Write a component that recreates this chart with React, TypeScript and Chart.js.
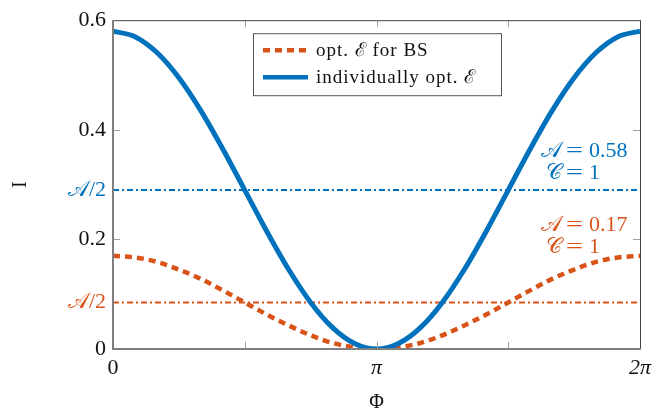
import React, { useEffect, useRef } from "react";
import { Chart, registerables } from "chart.js";
Chart.register(...registerables);

// Φ in radians (steps of π/12)
const PHI = [
  0, 0.2618, 0.5236, 0.7854, 1.0472, 1.309, 1.5708, 1.8326, 2.0944, 2.3562, 2.618, 2.8798, 3.1416,
  3.4034, 3.6652, 3.927, 4.1888, 4.4506, 4.7124, 4.9742, 5.236, 5.4978, 5.7596, 6.0214, 6.2832,
];
const INDIVIDUAL = [
  0.58, 0.57, 0.541, 0.495, 0.435, 0.365, 0.29, 0.215, 0.145, 0.085, 0.039, 0.01, 0.0,
  0.01, 0.039, 0.085, 0.145, 0.215, 0.29, 0.365, 0.435, 0.495, 0.541, 0.57, 0.58,
];
const OPT_BS = [
  0.17, 0.167, 0.159, 0.145, 0.128, 0.107, 0.085, 0.063, 0.043, 0.025, 0.011, 0.003, 0.0,
  0.003, 0.011, 0.025, 0.043, 0.063, 0.085, 0.107, 0.128, 0.145, 0.159, 0.167, 0.17,
];
const HALF_A_BLUE = 0.29;
const HALF_A_ORANGE = 0.085;

const X_TICKS = [0, 1.5708, 3.1416, 4.7124, 6.2832];
const X_TICK_LABELS = ["0", "", "π", "", "2π"];
const Y_TICKS = [0, 0.085, 0.2, 0.29, 0.4, 0.6];
const Y_TICK_LABELS = ["0", "𝒜/2", "0.2", "𝒜/2", "0.4", "0.6"];

const LEGEND_LABELS = ["opt. ℰ for BS", "individually opt. ℰ"];
const ANN_BLUE = ["𝒜 = 0.58", "𝒞 = 1"];
const ANN_ORANGE = ["𝒜 = 0.17", "𝒞 = 1"];

const BLUE = "#0072BD";
const ORANGE = "#D95319";
const FONT = "'Liberation Serif', serif";

const decor = {
  id: "decor",
  afterDatasetsDraw(chart: any) {
    const ctx = chart.ctx;
    const ca = chart.chartArea;
    const xs = chart.scales.x;
    const ys = chart.scales.y;
    ctx.save();
    // tick marks
    ctx.strokeStyle = "#a0a0a0";
    ctx.lineWidth = 1;
    [1.5708, 3.1416, 4.7124].forEach((v) => {
      const px = Math.round(xs.getPixelForValue(v)) + 0.5;
      ctx.beginPath();
      ctx.moveTo(px, ca.bottom);
      ctx.lineTo(px, ca.bottom - 7);
      ctx.moveTo(px, ca.top);
      ctx.lineTo(px, ca.top + 7);
      ctx.stroke();
    });
    [0.2, 0.4].forEach((v) => {
      const py = Math.round(ys.getPixelForValue(v)) + 0.5;
      ctx.beginPath();
      ctx.moveTo(ca.left, py);
      ctx.lineTo(ca.left + 7, py);
      ctx.moveTo(ca.right, py);
      ctx.lineTo(ca.right - 7, py);
      ctx.stroke();
    });
    // frame
    ctx.strokeStyle = "#444";
    ctx.lineWidth = 1;
    ctx.beginPath();
    ctx.moveTo(ca.left, ca.top + 0.5);
    ctx.lineTo(ca.right, ca.top + 0.5);
    ctx.moveTo(ca.right + 0.5, ca.top);
    ctx.lineTo(ca.right + 0.5, ca.bottom);
    ctx.stroke();
    ctx.strokeStyle = "#808080";
    ctx.lineWidth = 2;
    ctx.beginPath();
    ctx.moveTo(ca.left, ca.top);
    ctx.lineTo(ca.left, ca.bottom);
    ctx.lineTo(ca.right + 1, ca.bottom);
    ctx.stroke();

    // legend
    const lx = ca.left + 140;
    const ly = ca.top + 13;
    ctx.fillStyle = "#fff";
    ctx.fillRect(lx, ly, 248, 62);
    ctx.strokeStyle = "#555";
    ctx.lineWidth = 1;
    ctx.strokeRect(lx + 0.5, ly + 0.5, 248, 62);
    ctx.lineWidth = 4.5;
    ctx.strokeStyle = ORANGE;
    ctx.setLineDash([7, 5]);
    ctx.beginPath();
    ctx.moveTo(lx + 10, ly + 17);
    ctx.lineTo(lx + 53, ly + 17);
    ctx.stroke();
    ctx.setLineDash([]);
    ctx.strokeStyle = BLUE;
    ctx.beginPath();
    ctx.moveTo(lx + 10, ly + 44);
    ctx.lineTo(lx + 55, ly + 44);
    ctx.stroke();
    ctx.fillStyle = "#111";
    ctx.font = "19px " + FONT;
    ctx.textAlign = "left";
    ctx.textBaseline = "middle";
    (ctx as any).letterSpacing = "1px";
    ctx.fillText(LEGEND_LABELS[0], lx + 63, ly + 18);
    ctx.fillText(LEGEND_LABELS[1], lx + 63, ly + 45);
    (ctx as any).letterSpacing = "0px";

    // annotations
    ctx.font = "22px " + FONT;
    const drawAnn = (lines: string[], color: string, y0: number) => {
      ctx.fillStyle = color;
      lines.forEach((t, i) => {
        const [lhs, rhs] = t.split(" = ");
        const y = y0 + i * 22;
        ctx.textAlign = "right";
        ctx.fillText(lhs, 562, y);
        ctx.save();
        ctx.translate(574.5, y);
        ctx.scale(1.4, 1);
        ctx.textAlign = "center";
        ctx.fillText("=", 0, 0);
        ctx.restore();
        ctx.textAlign = "left";
        ctx.fillText(rhs, 589, y);
      });
    };
    drawAnn(ANN_BLUE, BLUE, 151);
    drawAnn(ANN_ORANGE, ORANGE, 225);

    // axis titles
    ctx.fillStyle = "#111";
    ctx.font = "20px " + FONT;
    ctx.textAlign = "center";
    ctx.fillText("Φ", (ca.left + ca.right) / 2, 403);
    ctx.translate(21, (ca.top + ca.bottom) / 2);
    ctx.rotate(-Math.PI / 2);
    ctx.fillText("I", 0, 0);
    ctx.restore();
  },
};

export default function App() {
  const ref = useRef<HTMLCanvasElement>(null);
  useEffect(() => {
    document.body.style.margin = "0";
    const pts = (ys: number[]) => ys.map((y, i) => ({ x: PHI[i], y }));
    const hline = (v: number) => [
      { x: PHI[0], y: v },
      { x: PHI[PHI.length - 1], y: v },
    ];
    const chart = new Chart(ref.current!, {
      type: "line",
      data: {
        datasets: [
          {
            label: LEGEND_LABELS[1],
            data: pts(INDIVIDUAL),
            borderColor: BLUE,
            borderWidth: 5,
            pointRadius: 0,
            cubicInterpolationMode: "monotone",
            order: 1,
            clip: 0,
          },
          {
            label: LEGEND_LABELS[0],
            data: pts(OPT_BS),
            borderColor: ORANGE,
            borderWidth: 4.5,
            borderDash: [7, 5],
            pointRadius: 0,
            cubicInterpolationMode: "monotone",
            order: 2,
            clip: 0,
          },
          {
            label: "A/2 blue",
            data: hline(HALF_A_BLUE),
            borderColor: BLUE,
            borderWidth: 2,
            borderDash: [6, 3, 2, 3],
            pointRadius: 0,
            order: 3,
          },
          {
            label: "A/2 orange",
            data: hline(HALF_A_ORANGE),
            borderColor: ORANGE,
            borderWidth: 2,
            borderDash: [6, 3, 2, 3],
            pointRadius: 0,
            order: 3,
          },
        ],
      },
      options: {
        animation: false,
        responsive: false,
        layout: { padding: { left: 0, right: 28, top: 17, bottom: 0 } },
        plugins: { legend: { display: false }, tooltip: { enabled: false } },
        scales: {
          x: {
            type: "linear",
            min: 0,
            max: 6.2832,
            grid: { display: false, drawTicks: false },
            border: { display: false },
            afterBuildTicks: (s: any) => {
              s.ticks = X_TICKS.map((v) => ({ value: v }));
            },
            afterFit: (s: any) => {
              s.height = 63;
            },
            ticks: {
              autoSkip: false,
              maxRotation: 0,
              padding: 6,
              color: "#111",
              font: (c: any) => ({
                family: FONT,
                size: 22,
                style: c.index === 0 ? "normal" : "italic",
              }),
              callback: (_v: any, i: number) => X_TICK_LABELS[i],
            },
          },
          y: {
            min: 0,
            max: 0.6,
            grid: { display: false, drawTicks: false },
            border: { display: false },
            afterBuildTicks: (s: any) => {
              s.ticks = Y_TICKS.map((v) => ({ value: v }));
            },
            afterFit: (s: any) => {
              s.width = 113;
            },
            ticks: {
              autoSkip: false,
              padding: 7,
              color: (c: any) =>
                c.index === 1 ? ORANGE : c.index === 3 ? BLUE : "#111",
              font: { family: FONT, size: 22 },
              callback: (_v: any, i: number) => Y_TICK_LABELS[i],
            },
          },
        },
      },
      plugins: [decor],
    });
    return () => chart.destroy();
  }, []);
  return <canvas ref={ref} width={668} height={412} style={{ display: "block" }} />;
}
